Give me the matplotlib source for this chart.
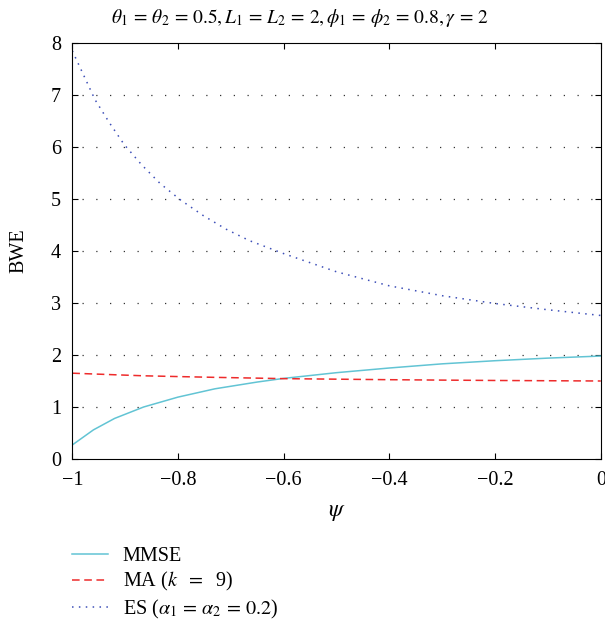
import matplotlib
matplotlib.use("Agg")
import matplotlib.pyplot as plt

psi = [-1.0, -0.96, -0.92, -0.865, -0.8, -0.73, -0.65, -0.6, -0.5,
       -0.4, -0.3, -0.2, -0.1, 0.0]
mmse = [0.27, 0.56, 0.78, 1.00, 1.19, 1.35, 1.48, 1.55, 1.66,
        1.75, 1.83, 1.89, 1.94, 1.98]
ma = [1.65, 1.635, 1.62, 1.60, 1.585, 1.57, 1.555, 1.545, 1.535,
      1.525, 1.517, 1.51, 1.505, 1.50]
es_psi = [-1.0, -0.978, -0.957, -0.93, -0.902, -0.869, -0.834, -0.795,
          -0.752, -0.709, -0.665, -0.6, -0.5, -0.4, -0.3, -0.2, -0.1, 0.0]
es = [7.85, 7.37, 6.91, 6.47, 6.05, 5.66, 5.30, 4.98,
      4.68, 4.42, 4.20, 3.95, 3.60, 3.33, 3.14, 2.99, 2.87, 2.76]

plt.rcParams["font.family"] = ["Liberation Serif", "DejaVu Serif"]
plt.rcParams["mathtext.fontset"] = "stix"
plt.rcParams["font.size"] = 14

fig = plt.figure(figsize=(6.05, 6.2), dpi=100)
ax = fig.add_axes([0.1195, 0.2597, 0.8735, 0.6709])

ax.plot(psi, mmse, color="#62c4d4", lw=1.1, label="MMSE")
ax.plot(psi, ma, color="#ee2b2b", lw=1.1, ls=(0, (5, 3)),
        label=r"MA ($k\ \ =\ \ $9)")
ax.plot(es_psi, es, color="#3d4fb8", lw=1.1, ls=(0, (1, 3.5)),
        label=r"ES ($\alpha_1\,=\,\alpha_2\,=\,0.2$)")

# dotted horizontal grid, MATLAB style
for yv in range(1, 8):
    ax.axhline(yv, color="#333333", lw=0.9, ls=(3, (1, 10)), zorder=0)

ax.set_xlim(-1, 0)
ax.set_ylim(0, 8)
ax.set_xticks([-1, -0.8, -0.6, -0.4, -0.2, 0])
ax.set_xticklabels(["\u22121", "\u22120.8", "\u22120.6", "\u22120.4",
                    "\u22120.2", "0"])
ax.set_yticks(range(0, 9))
ax.tick_params(direction="in", top=True, right=True, length=4,
               labelsize=14.5)
ax.tick_params(axis="x", pad=9)
ax.tick_params(axis="y", pad=8)
ax.set_xlabel(r"$\psi$", fontsize=17, labelpad=8)
ax.set_ylabel("BWE", fontsize=14.5, labelpad=16)

# title sits centred on the figure, not on the axes
fig.text(0.495, 0.971,
         r"$\theta_1\,=\,\theta_2\,=\,0.5, L_1\,=\,L_2\,=\,2, "
         r"\phi_1\,=\,\phi_2\,=\,0.8, \gamma\,=\,2$",
         fontsize=14, ha="center", va="center")

fig.legend(loc="upper left", bbox_to_anchor=(0.106, 0.131), frameon=False,
           fontsize=14.5, handlelength=1.8, handletextpad=0.7,
           labelspacing=0.22, borderaxespad=0)

fig.savefig("out.png", dpi=100)
